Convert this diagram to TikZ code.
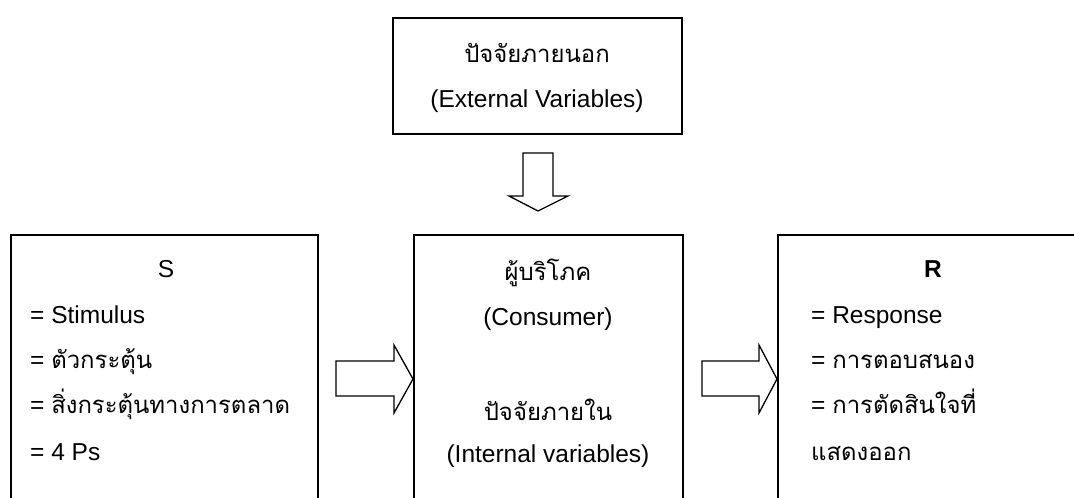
\documentclass[tikz,border=0pt]{standalone}
\usepackage{fontspec}
\setmainfont{Liberation Sans}
\newfontfamily\thaifont[Script=Thai,Scale=0.975]{Loma}
\usetikzlibrary{calc}
\begin{document}
\begin{tikzpicture}[x=1pt,y=-1pt,
  box/.style={draw=black,line width=1.6pt,rectangle,inner sep=0pt,anchor=north west},
  blockarrow/.style={draw=black,line width=1.3pt,fill=white,line join=miter},
  txt/.style={inner sep=0pt,font=\fontsize{24.5}{28}\selectfont},
  ctr/.style={txt,anchor=base},
  lft/.style={txt,anchor=base west}]
\useasboundingbox (0,0) rectangle (1074,498);
\clip (0,0) rectangle (1074,498);
\fill[white] (0,0) rectangle (1074,498);
% boxes
\node[box,minimum width=289pt,minimum height=116pt] (ext) at (392,17) {};
\node[box,minimum width=307pt,minimum height=300pt] (S) at (10,234) {};
\node[box,minimum width=269pt,minimum height=300pt] (C) at (413,234) {};
\node[box,minimum width=320pt,minimum height=300pt] (R) at (777,234) {};
% top box text
\node[ctr] (e1) at (537,62) {\thaifont ปัจจัยภายนอก};
\node[ctr] (e2) at (537,107) {(External Variables)};
% S box text
\node[ctr] (s0) at (166,277) {S};
\node[lft] (s1) at (30,323) {= Stimulus};
\node[lft] (s2) at (30,368) {= {\thaifont ตัวกระตุ้น}};
\node[lft] (s3) at (30,413) {= {\thaifont สิ่งกระตุ้นทางการตลาด}};
\node[lft] (s4) at (30,460) {= 4 Ps};
% consumer box text
\node[ctr] (c1) at (548,280) {\thaifont ผู้บริโภค};
\node[ctr] (c2) at (548,325) {(Consumer)};
\node[ctr] (c3) at (548,420) {\thaifont ปัจจัยภายใน};
\node[ctr] (c4) at (548,462) {(Internal variables)};
% R box text
\node[ctr] (r0) at (933,277) {\bfseries R};
\node[lft] (r1) at (811,323) {= Response};
\node[lft] (r2) at (811,368) {= {\thaifont การตอบสนอง}};
\node[lft] (r3) at (811,413) {= {\thaifont การตัดสินใจที่}};
\node[lft] (r4) at (811,460) {\thaifont แสดงออก};
% block arrows
\coordinate (dtip) at (538,211);
\draw[blockarrow] ($(dtip)+(-15,-58)$) -- ($(dtip)+(15,-58)$) -- ($(dtip)+(15,-15)$)
  -- ($(dtip)+(30,-15)$) -- (dtip) -- ($(dtip)+(-29,-15)$) -- ($(dtip)+(-15,-15)$) -- cycle;
\coordinate (a1) at (C.west |- 0,379);
\draw[blockarrow] ($(a1)+(-77,-18)$) -- ($(a1)+(-19,-18)$) -- ($(a1)+(-19,-34)$)
  -- (a1) -- ($(a1)+(-19,34)$) -- ($(a1)+(-19,17)$) -- ($(a1)+(-77,17)$) -- cycle;
\coordinate (a2) at (R.west |- 0,379);
\draw[blockarrow] ($(a2)+(-75,-18)$) -- ($(a2)+(-18,-18)$) -- ($(a2)+(-18,-34)$)
  -- (a2) -- ($(a2)+(-18,34)$) -- ($(a2)+(-18,17)$) -- ($(a2)+(-75,17)$) -- cycle;
\end{tikzpicture}
\end{document}
